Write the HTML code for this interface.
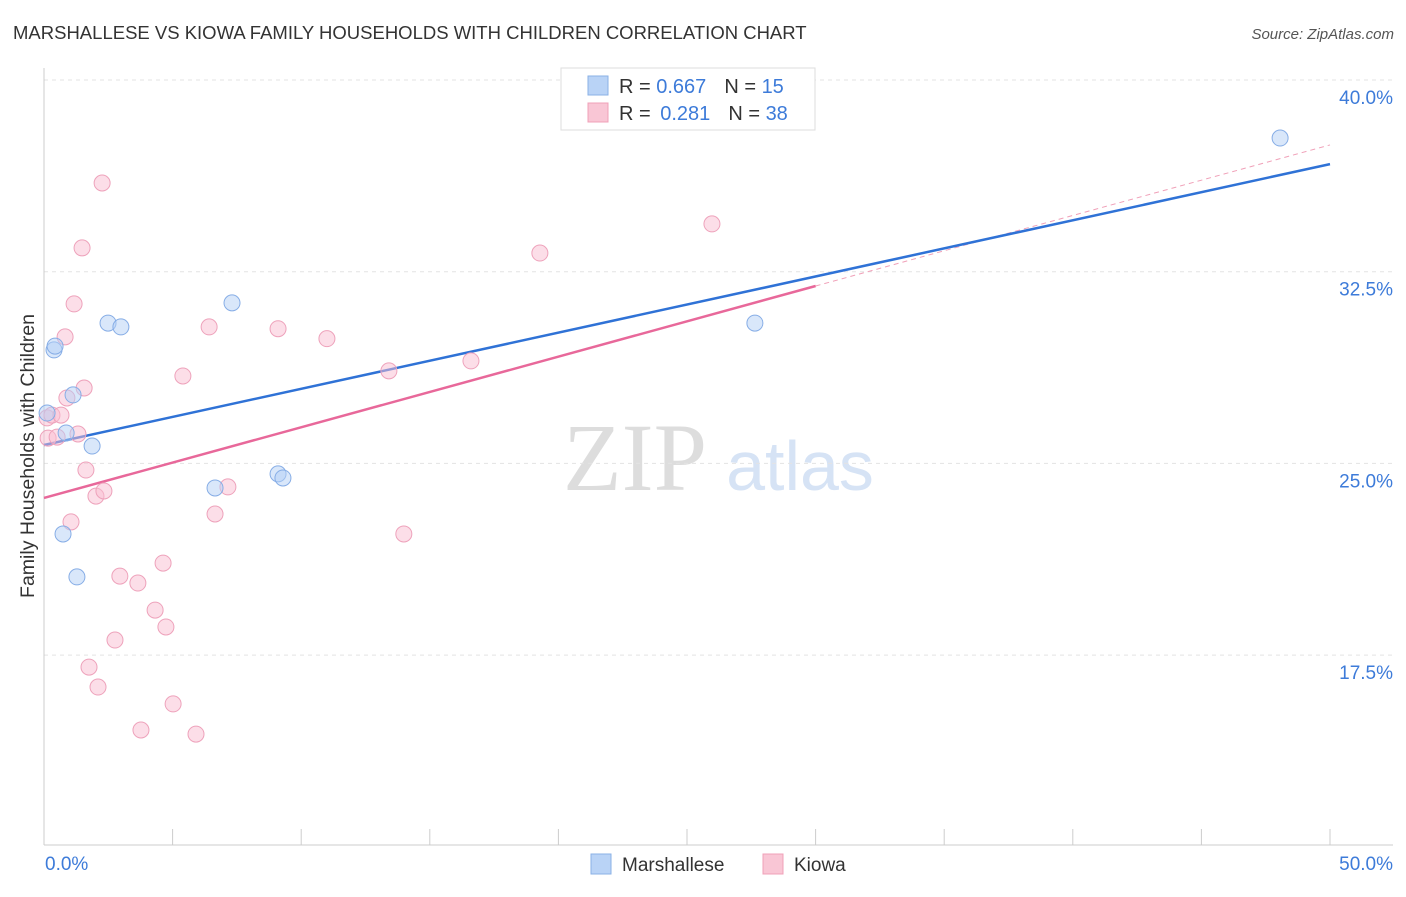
<!DOCTYPE html>
<html><head><meta charset="utf-8"><style>
body{margin:0;background:#fff;font-family:"Liberation Sans",sans-serif}
svg text{font-family:"Liberation Sans",sans-serif}
</style></head><body>
<svg id="c" width="1406" height="892">
<text x="13" y="39" font-size="18.5" fill="#333">MARSHALLESE VS KIOWA FAMILY HOUSEHOLDS WITH CHILDREN CORRELATION CHART</text>
<text x="1394" y="39" font-size="15" fill="#555" text-anchor="end" font-style="italic">Source: ZipAtlas.com</text>
<text x="34" y="456" font-size="19.5" fill="#333" text-anchor="middle" transform="rotate(-90 34 456)">Family Households with Children</text>
<g><text x="635" y="490" font-size="96" fill="#ddd" text-anchor="middle" font-family="Liberation Serif" style="font-family:'Liberation Serif',serif">ZIP</text><text x="800" y="490" font-size="70" fill="#d6e3f5" text-anchor="middle">atlas</text></g>
<g id="grid"></g><g id="axes"></g><g id="lines"></g><g id="pts"></g>
<g>
<rect x="561" y="68" width="254" height="62" fill="#fff" stroke="#ddd"/>
<rect x="588" y="76" width="20" height="19" fill="#b9d3f6" stroke="#8ab0e6"/>
<rect x="588" y="103" width="20" height="19" fill="#f9c6d5" stroke="#f0a0b8"/>
<text x="619" y="93" font-size="20" fill="#333">R = <tspan fill="#3d7bd9">0.667</tspan><tspan dx="18" fill="#333">N = </tspan><tspan fill="#3d7bd9">15</tspan></text>
<text x="619" y="120" font-size="20" fill="#333">R = <tspan dx="4" fill="#3d7bd9">0.281</tspan><tspan dx="18" fill="#333">N = </tspan><tspan fill="#3d7bd9">38</tspan></text>
</g>
<g>
<rect x="591" y="854" width="20" height="20" fill="#b9d3f6" stroke="#8ab0e6"/>
<text x="622" y="871" font-size="19" fill="#333">Marshallese</text>
<rect x="763" y="854" width="20" height="20" fill="#f9c6d5" stroke="#f0a0b8"/>
<text x="794" y="871" font-size="19" fill="#333">Kiowa</text>
</g>
</svg>
<script>
const yTicks=[40,32.5,25,17.5];
const yTickLabels=["40.0%","32.5%","25.0%","17.5%"];
const xTicks=[0,5,10,15,20,25,30,35,40,45,50];
const blueX=[0.12,0.39,0.43,0.86,1.13,1.87,0.74,1.28,2.49,2.99,6.65,7.31,9.1,9.29,27.64,48.06];
const blueY=[26.97,29.44,29.59,26.19,27.68,25.68,22.24,20.56,30.49,30.34,24.04,31.28,24.59,24.43,30.49,37.73];
const pinkX=[0.12,0.16,0.31,0.51,0.66,0.82,0.89,1.17,1.56,1.48,1.32,1.63,1.05,2.02,2.33,2.26,2.95,3.65,2.76,1.75,2.1,3.77,4.32,4.74,4.63,5.02,5.91,5.4,6.42,6.65,7.15,9.1,11.0,13.41,13.99,16.6,19.28,25.97];
const pinkY=[26.78,25.99,26.89,26.03,26.89,29.95,27.56,31.24,27.95,33.43,26.15,24.74,22.71,23.72,23.92,35.97,20.59,20.32,18.09,17.03,16.25,14.57,19.26,18.6,21.1,15.59,14.41,28.42,30.34,23.02,24.08,30.27,29.88,28.62,22.24,29.01,33.23,34.37];
const blueLine=[[0,25.72],[50,36.71]];
const pinkSolid=[[0,23.65],[30,31.94]];
const pinkDash=[[30,31.94],[50,37.46]];
const NS="http://www.w3.org/2000/svg";
const X=v=>44+v*25.72, Y=v=>80+(40-v)*25.56;
function mk(p,t,a){const e=document.createElementNS(NS,t);for(const k in a)e.setAttribute(k,a[k]);document.getElementById(p).appendChild(e);return e;}
yTicks.forEach((t,i)=>{
 const g=mk('grid','line',{x1:44,x2:1393,y1:Y(t),y2:Y(t),stroke:'#e3e3e3','stroke-dasharray':'4,4'});
 
 
 const l=mk('grid','text',{x:1393,y:Y(t)+24,'text-anchor':'end','font-size':19,fill:'#3d7bd9'});l.textContent=yTickLabels[i];
 
 
});
const ax=mk('axes','line',{x1:44,x2:44,y1:68,y2:845,stroke:'#ccc'});


const bx=mk('axes','line',{x1:44,x2:1393,y1:845,y2:845,stroke:'#ccc'});


xTicks.forEach(t=>{const e=mk('axes','line',{x1:X(t),x2:X(t),y1:829,y2:845,stroke:'#ccc'});
 
 });
const xl0=mk('axes','text',{x:45,y:870,'font-size':19,fill:'#3d7bd9'});xl0.textContent='0.0%';


const xl1=mk('axes','text',{x:1393,y:870,'font-size':19,fill:'#3d7bd9','text-anchor':'end'});xl1.textContent='50.0%';


function ln(d,c,w,dash,n){const e=mk('lines','line',{x1:X(d[0][0]),y1:Y(d[0][1]),x2:X(d[1][0]),y2:Y(d[1][1]),stroke:c,'stroke-width':w});if(dash)e.setAttribute('stroke-dasharray',dash);
 
 }
ln(pinkDash,'#f0a0b8',1,'5,4','kiowa-trend-extension');
ln(pinkSolid,'#e8689a',2.5,null,'kiowa-trend-line');
ln(blueLine,'#2f72d6',2.5,null,'marshallese-trend-line');
pinkX.forEach((x,i)=>{const e=mk('pts','circle',{cx:X(x),cy:Y(pinkY[i]),r:8,fill:'rgba(249,190,210,0.5)',stroke:'#eea2bb'});
 
 });
blueX.forEach((x,i)=>{const e=mk('pts','circle',{cx:X(x),cy:Y(blueY[i]),r:8,fill:'rgba(180,207,245,0.5)',stroke:'#86ade6'});
 
 });
</script>
</body></html>
